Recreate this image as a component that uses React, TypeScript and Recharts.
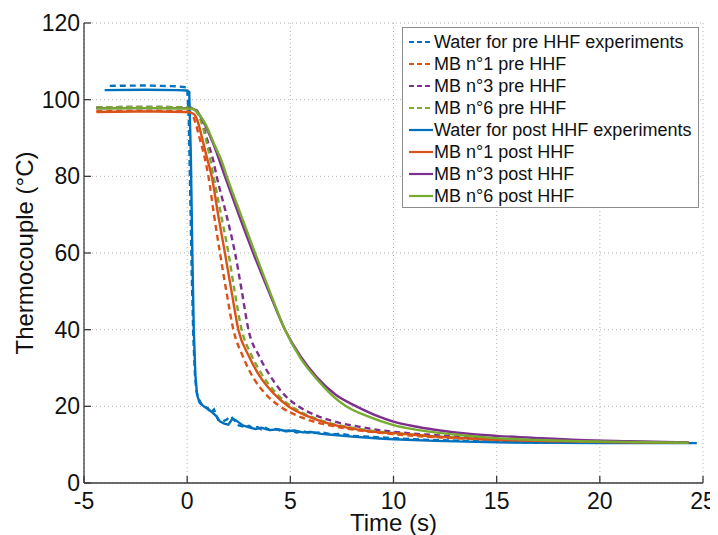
import React from 'react';
import { LineChart, Line, XAxis, YAxis, CartesianGrid, Legend, Label } from 'recharts';

// time (s) / temperature (°C)
const waterPreT = [-3.75, -2, -0.5, 0.0, 0.08, 0.15, 0.22, 0.3, 0.38, 0.45, 0.55, 0.7, 0.85, 1.0, 1.15, 1.3, 1.5, 1.7, 1.9, 2.1, 2.3, 2.5, 2.8, 3.0, 3.2, 3.4, 3.6, 3.8, 4, 4.3, 4.6, 5, 5.3, 5.6, 6, 6.5, 7, 7.5, 8, 9, 10, 11, 12, 13.5, 15, 16.5, 17.9];
const waterPreY = [103.6, 103.7, 103.5, 103.2, 95, 75, 55, 38, 28, 24, 22, 20.5, 20, 19.5, 18.3, 19.2, 16.5, 16, 16.5, 17.4, 16.3, 15, 14.6, 14.9, 14.2, 14.6, 14.0, 14.4, 13.8, 14.1, 13.5, 13.7, 13.2, 13.5, 13.0, 13.2, 12.7, 12.8, 12.3, 12.0, 11.7, 11.4, 11.2, 11, 10.8, 10.6, 10.5];

const waterPostT = [-4.0, -2, -0.5, 0.0, 0.1, 0.18, 0.25, 0.32, 0.4, 0.48, 0.6, 0.8, 1.0, 1.2, 1.4, 1.6, 1.8, 2.0, 2.2, 2.4, 2.7, 3, 3.3, 3.6, 4, 4.4, 4.8, 5.2, 5.6, 6, 6.5, 7, 8, 9.3, 10, 12, 15, 18, 20, 22, 24.7];
const waterPostY = [102.5, 102.6, 102.5, 102.4, 102, 85, 60, 40, 28, 23, 21, 20, 19.3, 18.5, 17.5, 16, 15.5, 15.2, 16.8, 16.2, 15, 14.5, 14.1, 14.4, 13.8, 14.0, 13.5, 13.7, 13.2, 13.3, 12.8, 12.6, 12.1, 11.6, 11.4, 11, 10.6, 10.5, 10.4, 10.4, 10.4];

const mb1PreT = [-4.4, -2, 0, 0.2, 0.4, 0.6, 0.8, 1.03, 1.3, 1.59, 1.9, 2.24, 2.7, 3.2, 3.8, 4.5, 5.5, 6.5, 7.5, 8.5, 9.5, 11, 13, 15, 18, 21, 24.3];
const mb1PreY = [97.0, 97.1, 97.0, 96.5, 94, 90, 86, 80, 70, 60, 50, 40, 33, 27.5, 23.2, 20, 17.2, 15.5, 14.4, 13.6, 13.0, 12.3, 11.7, 11.2, 10.8, 10.6, 10.5];

const mb1PostT = [-4.4, -2, 0, 0.3, 0.5, 0.7, 0.95, 1.19, 1.5, 1.83, 2.15, 2.48, 3.0, 3.5, 4.2, 4.9, 5.8, 7, 8, 9.3, 10, 12, 15, 18, 21, 24.3];
const mb1PostY = [96.8, 96.9, 96.8, 96.3, 94.5, 90.5, 85, 80, 70, 60, 50, 40, 33, 28, 23.3, 20, 17.5, 15.3, 14.2, 13.2, 13.0, 12.1, 11.3, 10.9, 10.6, 10.5];

const mb3PreT = [-4.4, -2, 0, 0.4, 0.7, 1.0, 1.27, 1.43, 1.9, 2.32, 2.65, 2.97, 3.5, 4.2, 4.8, 5.39, 6.3, 7.3, 8.3, 9.3, 10.5, 12, 15, 18, 21, 24.3];
const mb3PreY = [98.0, 98.1, 98.0, 97.5, 94.5, 89, 84, 80, 70, 60, 50, 40, 33, 26.5, 22.5, 20, 17.5, 15.8, 14.7, 13.8, 13.1, 12.5, 11.5, 11.0, 10.7, 10.5];

const mb6PreT = [-4.4, -2, 0, 0.3, 0.5, 0.75, 1.0, 1.28, 1.64, 2.0, 2.3, 2.64, 3.1, 3.6, 4.3, 5.05, 6, 7, 8, 9.3, 10.5, 12, 15, 18, 21, 24.3];
const mb6PreY = [98.0, 98.1, 98.0, 97.8, 96.5, 93, 87.5, 80, 70, 60, 50, 40, 33.5, 28.5, 23.5, 20, 17.3, 15.5, 14.4, 13.4, 12.8, 12.2, 11.3, 10.9, 10.6, 10.5];

const mb3PostT = [-4.4, -2, 0, 0.3, 0.6, 0.9, 1.3, 1.83, 2.5, 3.2, 3.95, 4.74, 5.5, 6.3, 7.2, 8.2, 9.3, 10, 11, 12, 13.5, 15, 17, 19, 21.5, 24.3];
const mb3PostY = [97.8, 97.8, 97.8, 97.6, 96, 93, 88, 80, 70, 60, 50, 40, 33, 27.5, 23, 20, 17.3, 16, 14.8, 13.9, 12.9, 12.3, 11.7, 11.2, 10.9, 10.6];

const mb6PostT = [-4.4, -2, 0, 0.3, 0.6, 0.9, 1.3, 1.67, 1.92, 2.6, 3.29, 4.0, 4.74, 5.5, 6.3, 7.0, 7.7, 8.7, 10, 11, 12, 13.5, 15, 17, 19, 21.5, 24.3];
const mb6PostY = [97.7, 97.8, 97.7, 97.5, 96, 93.5, 88.5, 84, 80, 70, 60, 50, 40, 32.5, 27, 23, 20, 17.5, 15.1, 14, 13.2, 12.4, 11.7, 11.2, 10.9, 10.7, 10.5];

const X_TICKS = [-5, 0, 5, 10, 15, 20, 25];
const Y_TICKS = [0, 20, 40, 60, 80, 100, 120];

const seriesNames = [
  'Water for pre HHF experiments',
  'MB n°1 pre HHF',
  'MB n°3 pre HHF',
  'MB n°6 pre HHF',
  'Water for post HHF experiments',
  'MB n°1 post HHF',
  'MB n°3 post HHF',
  'MB n°6 post HHF',
];
const seriesColors = ['#0072BD', '#D95319', '#7E2F8E', '#77AC30', '#0072BD', '#D95319', '#7E2F8E', '#77AC30'];
const seriesDashed = [true, true, true, true, false, false, false, false];
const seriesCurve = ['linear', 'monotone', 'monotone', 'monotone', 'linear', 'monotone', 'monotone', 'monotone'];

const toPoints = (ts: number[], ys: number[]) => ts.map((t, i) => ({ t, y: ys[i] }));

const seriesData = [
  toPoints(waterPreT, waterPreY),
  toPoints(mb1PreT, mb1PreY),
  toPoints(mb3PreT, mb3PreY),
  toPoints(mb6PreT, mb6PreY),
  toPoints(waterPostT, waterPostY),
  toPoints(mb1PostT, mb1PostY),
  toPoints(mb3PostT, mb3PostY),
  toPoints(mb6PostT, mb6PostY),
];

const AXIS = '#3a3a3a';
const FONT = '"Liberation Sans", Arial, Helvetica, sans-serif';
const DASH = '6 4';

function BottomTick({ x, y, payload }: any) {
  return (
    <g>
      <line x1={x} x2={x} y1={y} y2={y - 7} stroke={AXIS} strokeWidth={1.3} />
      <text x={x} y={y + 26} textAnchor="middle" fontSize={23} fill="#111" fontFamily={FONT}>
        {payload.value}
      </text>
    </g>
  );
}

function LeftTick({ x, y, payload }: any) {
  return (
    <g>
      <line x1={x} x2={x + 7} y1={y} y2={y} stroke={AXIS} strokeWidth={1.3} />
      <text x={x - 4} y={y + 8} textAnchor="end" fontSize={23} fill="#111" fontFamily={FONT}>
        {payload.value}
      </text>
    </g>
  );
}

function TopTick({ x, y }: any) {
  return <line x1={x} x2={x} y1={y} y2={y + 7} stroke={AXIS} strokeWidth={1.3} />;
}

function RightTick({ x, y }: any) {
  return <line x1={x} x2={x - 7} y1={y} y2={y} stroke={AXIS} strokeWidth={1.3} />;
}

function LegendBox() {
  return (
    <div
      style={{
        boxSizing: 'border-box',
        width: 297,
        height: 181,
        background: '#fff',
        border: '1px solid #8c8c8c',
        padding: '3px 0 0 5px',
        fontFamily: FONT,
        fontSize: 18,
        color: '#111',
      }}
    >
      {seriesNames.map((name, i) => (
        <div key={name} style={{ display: 'flex', alignItems: 'center', height: 22, whiteSpace: 'nowrap' }}>
          <svg width={26} height={22} style={{ flex: 'none' }}>
            <line
              x1={1}
              x2={25}
              y1={11}
              y2={11}
              stroke={seriesColors[i]}
              strokeWidth={2.2}
              strokeDasharray={seriesDashed[i] ? '5 3' : undefined}
            />
          </svg>
          <span>{name}</span>
        </div>
      ))}
    </div>
  );
}

export default function App() {
  return (
    <LineChart width={710} height={527} margin={{ top: 15, right: 15, bottom: 0, left: 0 }} style={{ overflow: 'visible' }}>
      <CartesianGrid stroke="#b4b4b4" strokeDasharray="1 3" horizontalValues={Y_TICKS} verticalValues={X_TICKS} />
      <XAxis
        dataKey="t"
        type="number"
        domain={[-5, 25]}
        ticks={X_TICKS}
        allowDataOverflow
        height={52}
        tickSize={0}
        tickMargin={0}
        tickLine={false}
        tick={<BottomTick />}
        axisLine={{ stroke: AXIS, strokeWidth: 1.3 }}
      >
        <Label
          content={({ viewBox }: any) => (
            <text
              x={viewBox.x + viewBox.width / 2}
              y={viewBox.y + 48}
              textAnchor="middle"
              fontSize={24}
              fill="#111"
              fontFamily={FONT}
            >
              Time (s)
            </text>
          )}
        />
      </XAxis>
      <XAxis
        xAxisId="top"
        orientation="top"
        type="number"
        domain={[-5, 25]}
        ticks={X_TICKS}
        allowDataOverflow
        height={0}
        tickSize={0}
        tickMargin={0}
        tickLine={false}
        tick={<TopTick />}
        axisLine={{ stroke: AXIS, strokeWidth: 1.3 }}
      />
      <YAxis
        type="number"
        domain={[0, 120]}
        ticks={Y_TICKS}
        allowDataOverflow
        width={76}
        tickSize={0}
        tickMargin={0}
        tickLine={false}
        tick={<LeftTick />}
        axisLine={{ stroke: AXIS, strokeWidth: 1.3 }}
      >
        <Label
          content={({ viewBox }: any) => {
            const cx = 25;
            const cy = viewBox.y + viewBox.height / 2;
            return (
              <text
                x={cx}
                y={cy}
                transform={`rotate(-90, ${cx}, ${cy})`}
                textAnchor="middle"
                fontSize={24}
                fill="#111"
                fontFamily={FONT}
              >
                Thermocouple (°C)
              </text>
            );
          }}
        />
      </YAxis>
      <YAxis
        yAxisId="right"
        orientation="right"
        type="number"
        domain={[0, 120]}
        ticks={Y_TICKS}
        allowDataOverflow
        width={0}
        tickSize={0}
        tickMargin={0}
        tickLine={false}
        tick={<RightTick />}
        axisLine={{ stroke: AXIS, strokeWidth: 1.3 }}
      />
      {seriesData.map((pts, i) => (
        <Line
          key={seriesNames[i]}
          data={pts}
          dataKey="y"
          name={seriesNames[i]}
          type={seriesCurve[i] as any}
          stroke={seriesColors[i]}
          strokeWidth={2.4}
          strokeDasharray={seriesDashed[i] ? DASH : undefined}
          dot={false}
          activeDot={false}
          isAnimationActive={false}
        />
      ))}
      <Legend
        layout="vertical"
        align="center"
        verticalAlign="middle"
        content={<LegendBox />}
        wrapperStyle={{ left: 394, top: 19, width: 297, height: 181 }}
      />
    </LineChart>
  );
}
